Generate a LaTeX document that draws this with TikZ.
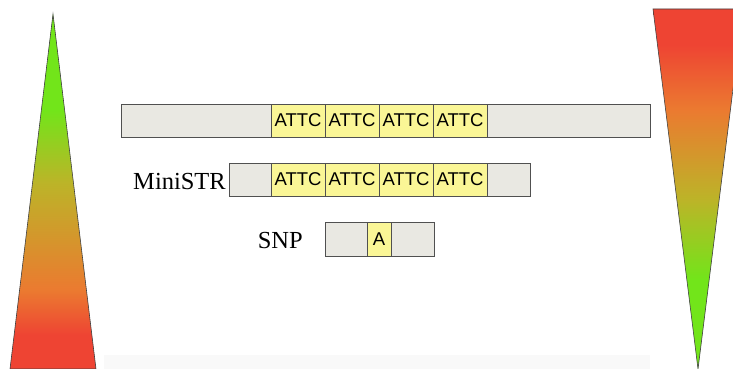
\documentclass[tikz,border=0pt]{standalone}
\usepackage{fontspec}
\newfontfamily\cellfont{Liberation Sans}
\newfontfamily\labelfont{Liberation Serif}
\definecolor{graybg}{RGB}{233,232,226}
\definecolor{repyellow}{RGB}{250,246,150}
\definecolor{edgegray}{RGB}{80,80,80}
\definecolor{tred}{RGB}{238,68,51}
\definecolor{torange}{RGB}{235,122,48}
\definecolor{tolive}{RGB}{188,180,40}
\definecolor{tgreen}{RGB}{114,229,26}
\definecolor{faint}{RGB}{249,249,249}
% gradients for the two wedges (25bp = bottom of path, 75bp = top)
\pgfdeclareverticalshading{upwedge}{100bp}{%
  color(0bp)=(tred); color(29.8bp)=(tred); color(36.1bp)=(torange);
  color(51.2bp)=(tolive); color(61.5bp)=(tgreen); color(100bp)=(tgreen)}
\pgfdeclareverticalshading{downwedge}{100bp}{%
  color(0bp)=(tgreen); color(37.4bp)=(tgreen); color(48.5bp)=(tolive);
  color(61bp)=(torange); color(70bp)=(tred); color(100bp)=(tred)}
\tikzset{
  seg/.style={draw=edgegray, fill=graybg, line width=0.9pt, minimum height=33pt,
    inner sep=0pt, outer sep=0pt, font=\cellfont\fontsize{18.5}{18.5}\selectfont},
  rep/.style={seg, fill=repyellow},
  lbl/.style={inner sep=0pt, font=\labelfont\fontsize{24.5}{24.5}\selectfont},
  wedge/.style={draw=black!75, line width=0.6pt}
}
\begin{document}
\begin{tikzpicture}[x=1pt,y=-1pt]
\useasboundingbox (0,0) rectangle (733,369);
\clip (0,0) rectangle (733,369);
% faint strip along the bottom
\fill[faint] (104,355) rectangle (650,369);
% wedges
\path[wedge, shading=upwedge] (53,14) -- (96,369) -- (10,369) -- cycle;
\path[wedge, shading=downwedge] (653,9) -- (743,9) -- (698,369) -- cycle;
% full sequence
\node[seg, minimum width=150pt] (a0) at (196,120.5) {};
\node[rep, minimum width=54pt] (a1) at (298,120.5) {ATTC};
\node[rep, minimum width=54pt] (a2) at (352,120.5) {ATTC};
\node[rep, minimum width=54pt] (a3) at (406,120.5) {ATTC};
\node[rep, minimum width=54pt] (a4) at (460,120.5) {ATTC};
\node[seg, minimum width=163pt] (a5) at (568.5,120.5) {};
% MiniSTR
\node[seg, minimum width=42pt] (b0) at (250,179.5) {};
\node[rep, minimum width=54pt] (b1) at (298,179.5) {ATTC};
\node[rep, minimum width=54pt] (b2) at (352,179.5) {ATTC};
\node[rep, minimum width=54pt] (b3) at (406,179.5) {ATTC};
\node[rep, minimum width=54pt] (b4) at (460,179.5) {ATTC};
\node[seg, minimum width=43pt] (b5) at (508.5,179.5) {};
\node[lbl, anchor=base east] (ministr) at (226,189.5) {MiniSTR};
% SNP
\node[seg, minimum width=42pt, minimum height=34pt] (c0) at (346,239) {};
\node[rep, minimum width=24pt, minimum height=34pt] (c1) at (379,239) {A};
\node[seg, minimum width=43pt, minimum height=34pt] (c2) at (412.5,239) {};
\node[lbl, anchor=base east] (snp) at (303,248.5) {SNP};
\end{tikzpicture}
\end{document}
